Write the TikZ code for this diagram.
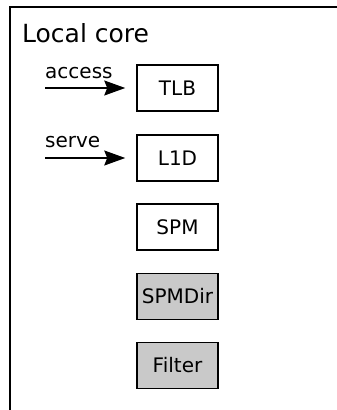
\documentclass[tikz,border=0pt]{standalone}
\usepackage{fontspec}
\setmainfont{DejaVu Sans}
\usetikzlibrary{arrows.meta}
\begin{document}
\begin{tikzpicture}[x=1pt,y=-1pt,
  unit/.style={draw=black,line width=1.5pt,minimum width=81pt,minimum height=46pt,
    inner sep=0pt,font=\fontsize{20}{24}\selectfont},
  shaded/.style={unit,fill=black!21},
  feed/.style={line width=1.6pt,-{Stealth[length=21pt,width=15pt,inset=3pt]}},
  tag/.style={anchor=base west,inner sep=0pt,font=\fontsize{20}{24}\selectfont}]
\useasboundingbox (0,0) rectangle (337,410);
% enclosing frame, open to the right and below
\draw[line width=2pt] (10,420) -- (10,7) -- (345,7);
\node[anchor=base west,inner sep=0pt,font=\fontsize{25}{30}\selectfont] (title) at (22,42) {Local core};
% units
\node[unit]   (tlb)    at (177.5,88)  {TLB};
\node[unit]   (l1d)    at (177.5,158) {L1D};
\node[unit]   (spm)    at (177.5,227) {SPM};
\node[shaded] (spmdir) at (177.5,296.5) {SPMDir};
\node[shaded] (filter) at (177.5,365.5) {Filter};
% incoming requests
\coordinate (accin) at (45,88);
\coordinate (srvin) at (45,158);
\node[tag] (acclab) at (45,78) {access};
\node[tag] (srvlab) at (45,147) {serve};
\draw[feed] (accin) -- ([xshift=-11pt]tlb.west);
\draw[feed] (srvin) -- ([xshift=-11pt]l1d.west);
\end{tikzpicture}
\end{document}
